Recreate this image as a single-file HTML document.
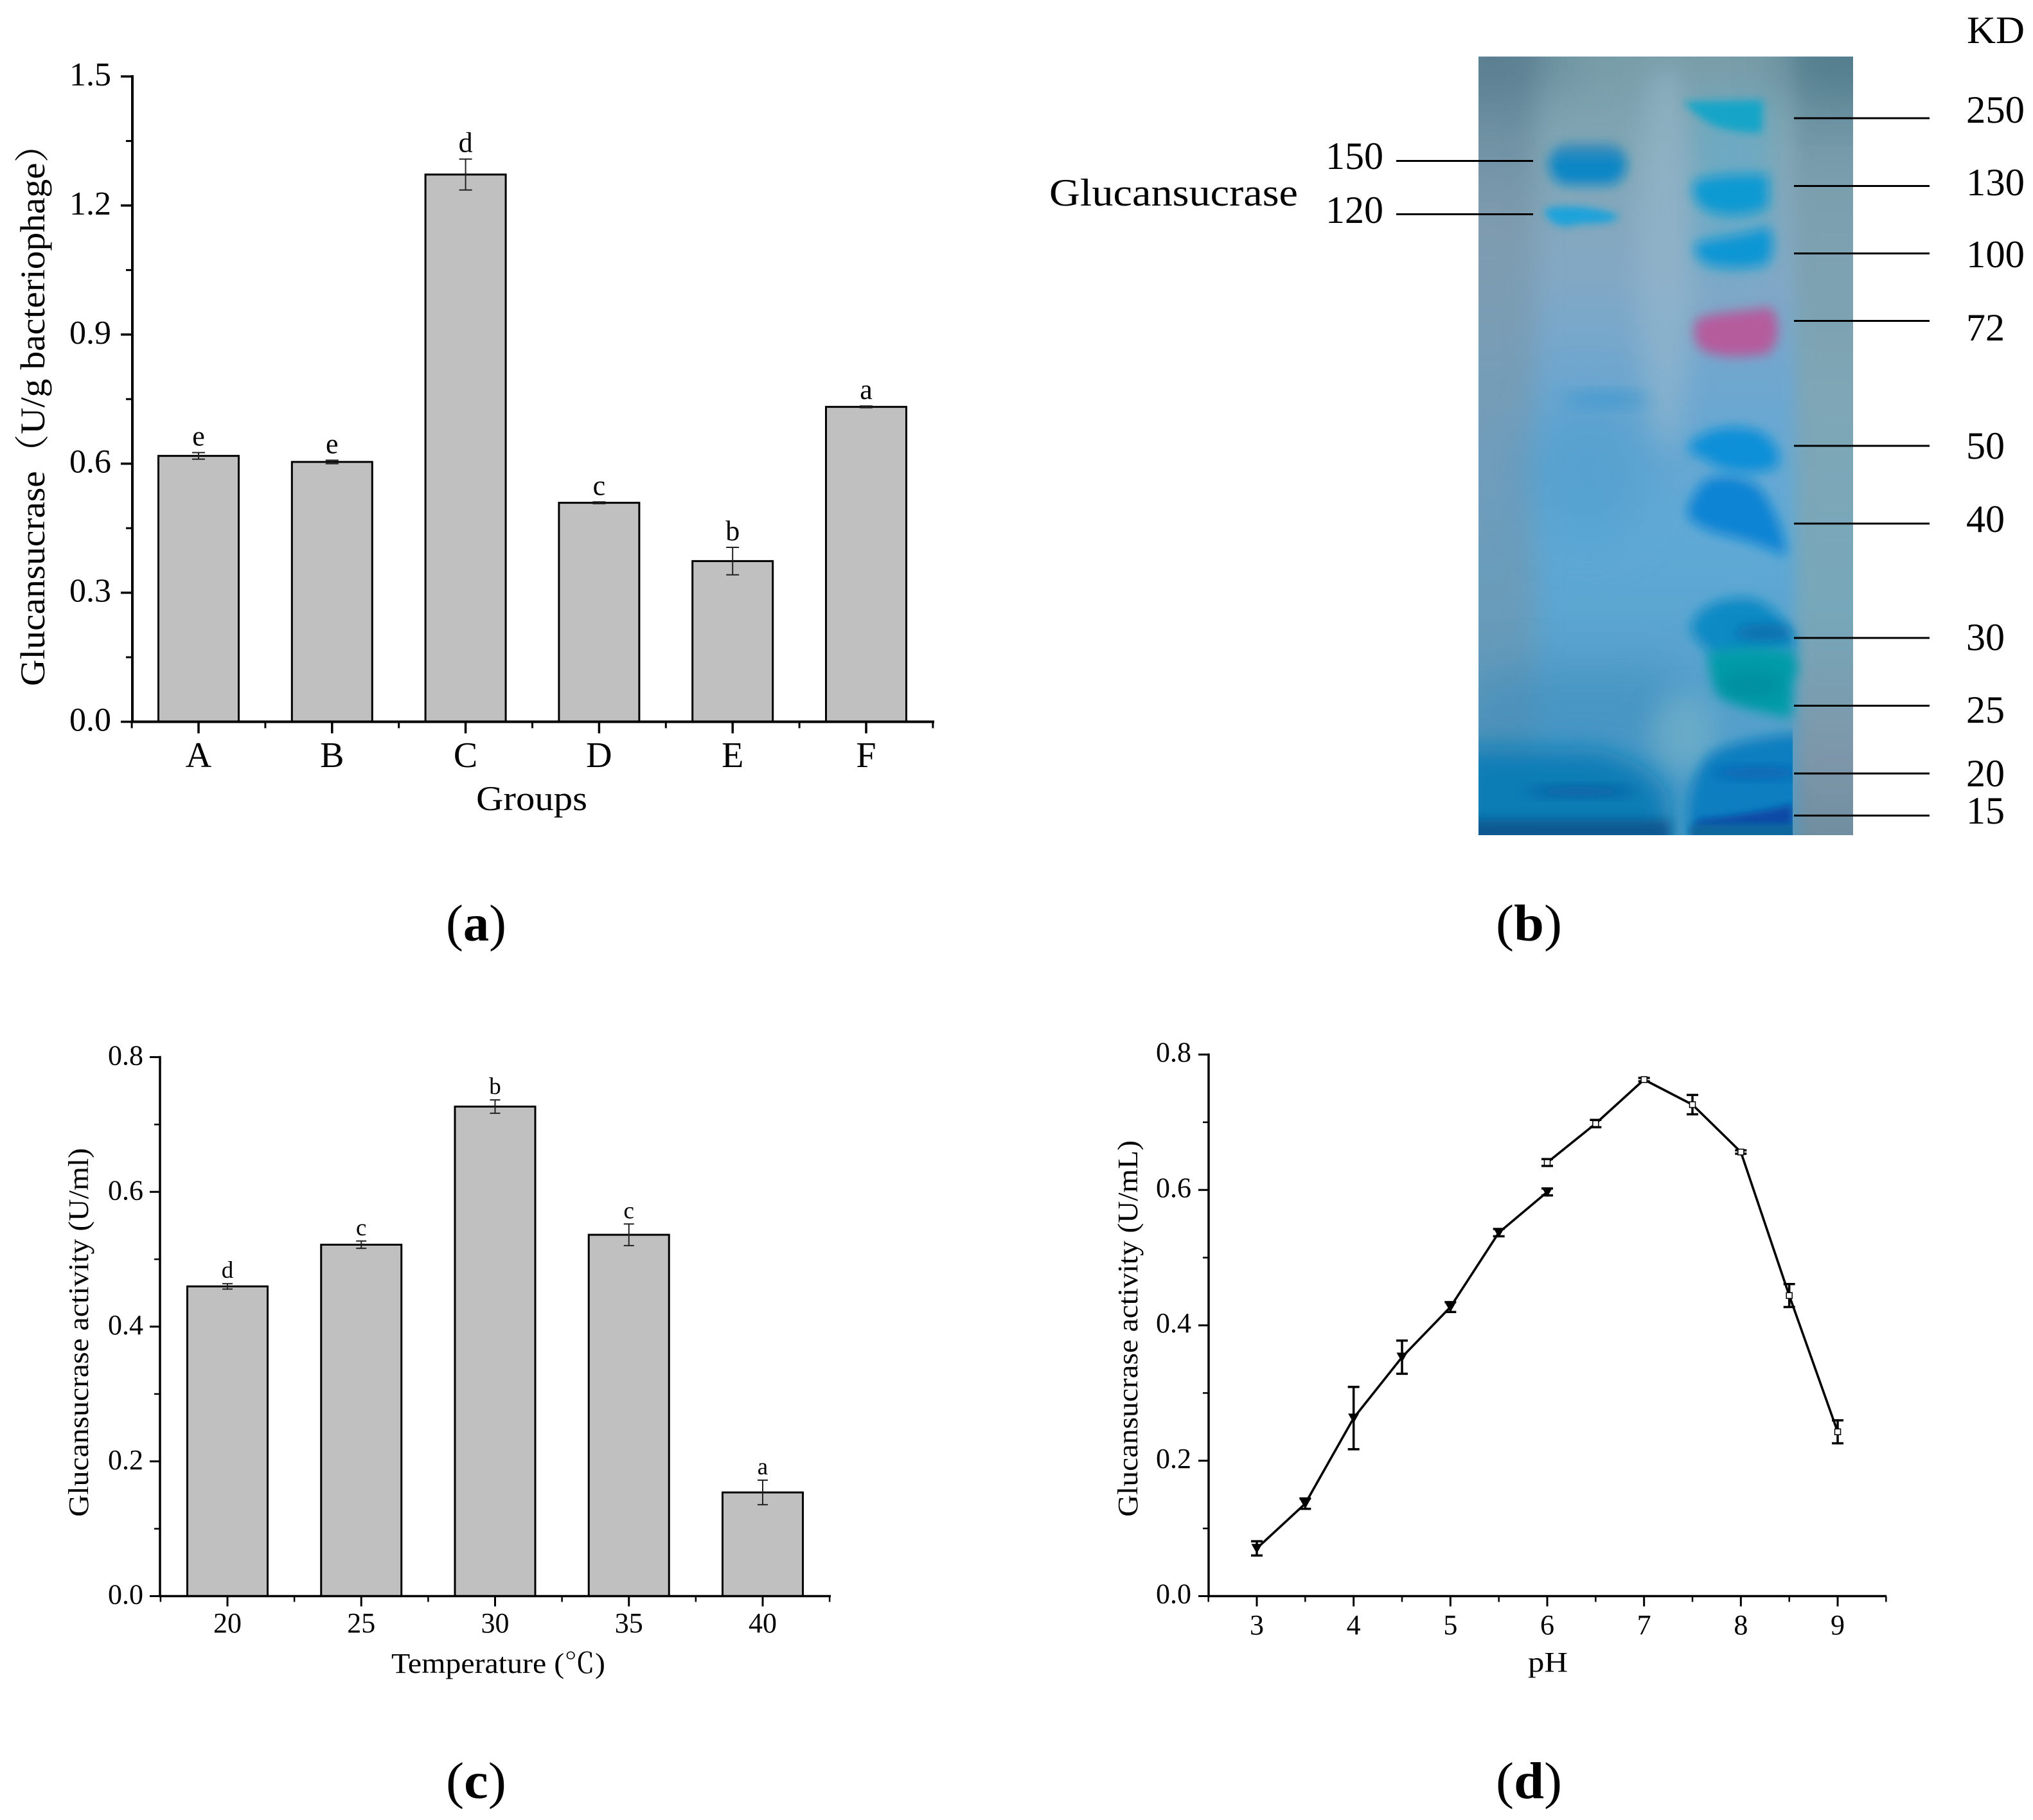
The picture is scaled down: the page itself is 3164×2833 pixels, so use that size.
<!DOCTYPE html>
<html lang="en">
<head>
<meta charset="utf-8">
<title>Glucansucrase figure</title>
<style>
html,body{margin:0;padding:0;background:#fff;}
svg{display:block;}
text{font-family:"Liberation Serif","Noto Serif CJK SC",serif;fill:#000;}
</style>
</head>
<body>
<svg id="figure" xmlns="http://www.w3.org/2000/svg" width="3164" height="2833" viewBox="0 0 3164 2833">
  <defs>
    <filter id="b5" x="-30%" y="-40%" width="160%" height="180%"><feGaussianBlur stdDeviation="6"/></filter>
    <filter id="b7" x="-30%" y="-50%" width="160%" height="200%"><feGaussianBlur stdDeviation="9"/></filter>
    <filter id="b12" x="-40%" y="-40%" width="180%" height="180%"><feGaussianBlur stdDeviation="12"/></filter>
    <filter id="b20" x="-40%" y="-40%" width="180%" height="180%"><feGaussianBlur stdDeviation="20"/></filter>
    <filter id="b40" x="-60%" y="-60%" width="220%" height="220%"><feGaussianBlur stdDeviation="40"/></filter>
    <clipPath id="gelClip"><rect x="2301" y="88" width="583" height="1212"/></clipPath>
    <clipPath id="laneClip"><rect x="2301" y="88" width="489" height="1212"/></clipPath>
    <linearGradient id="gelBase" x1="0" y1="0" x2="0" y2="1">
      <stop offset="0" stop-color="#789ea9"/>
      <stop offset="0.12" stop-color="#82a6b4"/>
      <stop offset="0.28" stop-color="#83a8c4"/>
      <stop offset="0.42" stop-color="#6ea7d0"/>
      <stop offset="0.62" stop-color="#5fa9d6"/>
      <stop offset="0.8" stop-color="#58a2cd"/>
      <stop offset="1" stop-color="#4a9ac6"/>
    </linearGradient>
    <linearGradient id="gelMargin" x1="0" y1="0" x2="0" y2="1">
      <stop offset="0" stop-color="#5f8a9a"/>
      <stop offset="0.2" stop-color="#7c9fae"/>
      <stop offset="0.45" stop-color="#7ea6b6"/>
      <stop offset="0.7" stop-color="#77a7ba"/>
      <stop offset="0.88" stop-color="#7c96a8"/>
      <stop offset="1" stop-color="#6b8b9c"/>
    </linearGradient>
    <linearGradient id="gelLeft" x1="0" y1="0" x2="0" y2="1">
      <stop offset="0" stop-color="#5d8494"/>
      <stop offset="0.25" stop-color="#7f9cb0"/>
      <stop offset="0.55" stop-color="#6f9dbc"/>
      <stop offset="0.8" stop-color="#659ab8"/>
      <stop offset="1" stop-color="#2c86b4"/>
    </linearGradient>
    <linearGradient id="band150" x1="0" y1="0" x2="0" y2="1">
      <stop offset="0" stop-color="#4a90b8"/>
      <stop offset="0.45" stop-color="#0a86c4"/>
      <stop offset="1" stop-color="#0a88c8"/>
    </linearGradient>
  </defs>

  <g id="panel-a"></g>

  <g id="panel-b">
    <g clip-path="url(#gelClip)">
      <rect x="2301" y="88" width="583" height="1212" fill="url(#gelBase)"/>
      <rect x="2240" y="40" width="150" height="1300" fill="url(#gelLeft)" filter="url(#b20)"/>
      <rect x="2795" y="40" width="140" height="1300" fill="url(#gelMargin)" filter="url(#b12)"/>
      <ellipse cx="2592" cy="400" rx="45" ry="300" fill="#96b8cc" opacity="0.6" filter="url(#b20)"/>
      <ellipse cx="2320" cy="95" rx="130" ry="50" fill="#55798c" opacity="0.6" filter="url(#b40)"/>
      <ellipse cx="2880" cy="95" rx="110" ry="60" fill="#4d7686" opacity="0.75" filter="url(#b40)"/>
      <ellipse cx="2470" cy="730" rx="95" ry="110" fill="#4a9bcd" opacity="0.55" filter="url(#b40)"/>
      <ellipse cx="2500" cy="622" rx="66" ry="12" fill="#3a97cf" opacity="0.7" filter="url(#b12)"/>
      <rect x="2280" y="1040" width="330" height="130" fill="#3d8dbe" opacity="0.6" filter="url(#b40)"/>
      <rect x="2640" y="150" width="115" height="280" fill="#55aed2" opacity="0.45" filter="url(#b20)"/>
      <ellipse cx="2620" cy="1140" rx="50" ry="60" fill="#7db6c8" opacity="0.55" filter="url(#b20)"/>
      <g clip-path="url(#laneClip)">
        <path d="M2270 1165 L2480 1165 C2550 1180 2590 1210 2600 1250 L2590 1330 L2270 1330Z" fill="#0c7db6" filter="url(#b20)"/>
        <ellipse cx="2460" cy="1232" rx="85" ry="8" fill="#0a5aa0" opacity="0.85" filter="url(#b7)"/>
        <rect x="2280" y="1276" width="320" height="40" fill="#07528c" opacity="0.9" filter="url(#b7)"/>
        <path d="M2660 1175 C2700 1150 2770 1145 2810 1140 L2810 1310 L2632 1310 C2620 1260 2630 1210 2660 1175Z" fill="#0c7fc0" filter="url(#b7)"/>
        <ellipse cx="2735" cy="1203" rx="70" ry="9" fill="#0a5eb2" opacity="0.85" filter="url(#b7)"/>
        <path d="M2640 1276 C2690 1272 2750 1262 2790 1252 L2790 1288 L2640 1288Z" fill="#0a4aa6" filter="url(#b5)"/>
        <rect x="2630" y="1284" width="170" height="22" fill="#08659a" filter="url(#b5)"/>
      </g>
      <rect x="2411" y="222" width="120" height="66" rx="30" fill="url(#band150)" filter="url(#b7)"/>
      <path d="M2404 326 C2430 316 2490 322 2520 336 C2510 352 2470 346 2450 350 C2430 358 2404 344 2404 326Z" fill="#1fa3da" filter="url(#b5)"/>
      <path d="M2620 158 C2660 158 2710 156 2744 156 L2742 206 C2725 208 2690 204 2665 194 C2650 186 2630 170 2620 158Z" fill="#12a5c8" filter="url(#b5)"/>
      <path d="M2640 280 C2670 272 2720 270 2752 272 L2752 322 C2720 340 2670 338 2648 322 C2634 310 2632 292 2640 280Z" fill="#0a9ad2" filter="url(#b7)"/>
      <path d="M2640 378 C2670 370 2720 366 2752 352 C2762 375 2760 400 2748 412 C2710 420 2670 418 2650 408 C2640 398 2634 388 2640 378Z" fill="#0a96d4" filter="url(#b7)"/>
      <path d="M2642 496 C2680 484 2725 484 2756 478 C2772 500 2770 535 2752 550 C2710 558 2670 556 2648 544 C2634 530 2634 510 2642 496Z" fill="#b55c9d" filter="url(#b7)"/>
      <path d="M2648 678 C2672 660 2730 660 2752 680 C2768 698 2774 715 2764 728 C2730 742 2680 738 2650 712 C2634 708 2626 700 2628 695 C2630 688 2640 682 2648 678Z" fill="#0a90d8" filter="url(#b7)"/>
      <path d="M2655 746 C2690 735 2730 745 2745 768 C2762 795 2778 830 2780 866 C2760 856 2720 840 2680 832 C2650 824 2625 808 2626 798 C2630 778 2642 760 2655 746Z" fill="#0a84d4" filter="url(#b7)"/>
      <path d="M2632 975 C2640 945 2680 925 2730 932 C2765 945 2790 975 2796 1012 L2670 1024 C2650 1005 2632 990 2632 975Z" fill="#0a8ac4" filter="url(#b7)"/>
      <ellipse cx="2745" cy="985" rx="45" ry="14" fill="#0a69a8" opacity="0.75" filter="url(#b7)"/>
      <path d="M2660 1016 C2700 1004 2760 1008 2790 1014 C2800 1030 2800 1050 2790 1060 L2788 1118 C2740 1108 2700 1100 2675 1082 C2662 1058 2658 1034 2660 1016Z" fill="#069ba9" filter="url(#b7)"/>
      <ellipse cx="2725" cy="1066" rx="50" ry="22" fill="#048c9f" opacity="0.7" filter="url(#b12)"/>
    </g>

    <g stroke="#000" stroke-width="3">
      <line x1="2792" x2="3003" y1="184" y2="184"/>
      <line x1="2792" x2="3003" y1="289.5" y2="289.5"/>
      <line x1="2792" x2="3003" y1="394.5" y2="394.5"/>
      <line x1="2792" x2="3003" y1="499.5" y2="499.5"/>
      <line x1="2792" x2="3003" y1="694" y2="694"/>
      <line x1="2792" x2="3003" y1="815" y2="815"/>
      <line x1="2792" x2="3003" y1="993" y2="993"/>
      <line x1="2792" x2="3003" y1="1098.5" y2="1098.5"/>
      <line x1="2792" x2="3003" y1="1204" y2="1204"/>
      <line x1="2792" x2="3003" y1="1269.5" y2="1269.5"/>
      <line x1="2173" x2="2386" y1="250.5" y2="250.5"/>
      <line x1="2173" x2="2386" y1="333.5" y2="333.5"/>
    </g>

    <g font-size="60">
      <text x="3061" y="67" textLength="90" lengthAdjust="spacingAndGlyphs">KD</text>
      <text x="3060" y="191" textLength="91" lengthAdjust="spacingAndGlyphs">250</text>
      <text x="3060" y="304" textLength="91" lengthAdjust="spacingAndGlyphs">130</text>
      <text x="3060" y="416" textLength="91" lengthAdjust="spacingAndGlyphs">100</text>
      <text x="3060" y="530" textLength="60" lengthAdjust="spacingAndGlyphs">72</text>
      <text x="3060" y="714" textLength="60" lengthAdjust="spacingAndGlyphs">50</text>
      <text x="3060" y="828" textLength="60" lengthAdjust="spacingAndGlyphs">40</text>
      <text x="3060" y="1012" textLength="60" lengthAdjust="spacingAndGlyphs">30</text>
      <text x="3060" y="1125" textLength="60" lengthAdjust="spacingAndGlyphs">25</text>
      <text x="3060" y="1224" textLength="60" lengthAdjust="spacingAndGlyphs">20</text>
      <text x="3060" y="1282" textLength="60" lengthAdjust="spacingAndGlyphs">15</text>
      <text x="2063" y="263" textLength="90" lengthAdjust="spacingAndGlyphs">150</text>
      <text x="2063" y="347" textLength="90" lengthAdjust="spacingAndGlyphs">120</text>
      <text x="1633" y="320" textLength="387" lengthAdjust="spacingAndGlyphs">Glucansucrase</text>
    </g>
  </g>

  <g id="panel-c"></g>
  <g id="panel-d"></g>

  <g font-size="80">
    <text x="694" y="1464" textLength="94" lengthAdjust="spacingAndGlyphs">(<tspan font-weight="bold">a</tspan>)</text>
    <text x="2328" y="1464" textLength="103" lengthAdjust="spacingAndGlyphs">(<tspan font-weight="bold">b</tspan>)</text>
    <text x="694" y="2799" textLength="94" lengthAdjust="spacingAndGlyphs">(<tspan font-weight="bold">c</tspan>)</text>
    <text x="2328" y="2799" textLength="103" lengthAdjust="spacingAndGlyphs">(<tspan font-weight="bold">d</tspan>)</text>
  </g>
</svg>

<script>
// Panel (a): activity by group
const groupCategories = ['A', 'B', 'C', 'D', 'E', 'F'];
const groupValues = [0.618, 0.604, 1.272, 0.509, 0.3735, 0.732];
const groupErrors = [0.0076, 0.004, 0.036, 0.002, 0.032, 0.002];
const groupLetters = ['e', 'e', 'd', 'c', 'b', 'a'];
const groupYTicks = ['0.0', '0.3', '0.6', '0.9', '1.2', '1.5'];

// Panel (c): activity by temperature
const tempCategories = ['20', '25', '30', '35', '40'];
const tempValues = [0.4597, 0.5216, 0.7266, 0.5363, 0.1539];
const tempErrors = [0.004, 0.0054, 0.0099, 0.016, 0.0182];
const tempLetters = ['d', 'c', 'b', 'c', 'a'];
const tempYTicks = ['0.0', '0.2', '0.4', '0.6', '0.8'];

// Panel (d): activity by pH, two separate series
const phAcidX = [3, 3.5, 4, 4.5, 5, 5.5, 6];
const phAcidValues = [0.0705, 0.1366, 0.263, 0.353, 0.427, 0.537, 0.597];
const phAcidErrors = [0.0105, 0.0076, 0.046, 0.0245, 0.0073, 0.0054, 0.0051];
const phBasicX = [6, 6.5, 7, 7.5, 8, 8.5, 9];
const phBasicValues = [0.6405, 0.698, 0.763, 0.726, 0.656, 0.444, 0.2427];
const phBasicErrors = [0.005, 0.0054, 0.0025, 0.0143, 0.0025, 0.017, 0.017];
const phXTicks = ['3', '4', '5', '6', '7', '8', '9'];
const phYTicks = ['0.0', '0.2', '0.4', '0.6', '0.8'];

const NS = 'http://www.w3.org/2000/svg';

function make(parent, tag, props) {
  const el = document.createElementNS(NS, tag);
  for (const key in props) el.setAttribute(key, props[key]);
  parent.appendChild(el);
  return el;
}

function linearScale(d0, d1, r0, r1) {
  return function (v) { return r0 + (v - d0) / (d1 - d0) * (r1 - r0); };
}

function drawAxes(g, o) {
  let el = make(g, 'line', {x1: o.left, x2: o.left, y1: o.top - o.axisWidth / 2, y2: o.bottom + o.axisWidth / 2, stroke: '#000', 'stroke-width': o.axisWidth});
  
  
  el = make(g, 'line', {x1: o.left, x2: o.right, y1: o.bottom, y2: o.bottom, stroke: '#000', 'stroke-width': o.axisWidth});
  
  

  o.yTicks.forEach(function (label, i) {
    const v = parseFloat(label);
    const y = o.yScale(v);
    let t = make(g, 'line', {x1: o.left - o.majorLen, x2: o.left, y1: y, y2: y, stroke: '#000', 'stroke-width': o.axisWidth - 0.5});
    
    
    t = make(g, 'text', {x: o.yLabelRight, y: y + o.yLabelDy, 'text-anchor': 'end', 'font-size': o.tickFont});
    t.textContent = label;
    
    
    if (i < o.yTicks.length - 1) {
      const mid = o.yScale((v + parseFloat(o.yTicks[i + 1])) / 2);
      t = make(g, 'line', {x1: o.left - o.minorLen, x2: o.left, y1: mid, y2: mid, stroke: '#000', 'stroke-width': o.axisWidth - 1});
      
      
    }
  });
}

function drawXTick(g, o, x, label) {
  let t = make(g, 'line', {x1: x, x2: x, y1: o.bottom, y2: o.bottom + o.majorLen, stroke: '#000', 'stroke-width': o.axisWidth - 0.5});
  
  
  t = make(g, 'text', {x: x, y: o.xLabelY, 'text-anchor': 'middle', 'font-size': o.xTickFont});
  t.textContent = label;
  
  
}

function drawXMinor(g, o, x) {
  const t = make(g, 'line', {x1: x, x2: x, y1: o.bottom, y2: o.bottom + o.minorLen, stroke: '#000', 'stroke-width': o.axisWidth - 1});
  
  
}

function drawTitles(g, o) {
  let t = make(g, 'text', {x: o.xTitleX, y: o.xTitleY, 'font-size': o.titleFont, textLength: o.xTitleLen, lengthAdjust: 'spacingAndGlyphs'});
  t.textContent = o.xTitle;
  
  
  t = make(g, 'text', {transform: 'translate(' + o.yTitleX + ',' + o.yTitleStart + ') rotate(-90)', 'font-size': o.titleFont, textLength: o.yTitleLen, lengthAdjust: 'spacingAndGlyphs'});
  t.textContent = o.yTitle;
  
  
}

function drawErrorBar(g, x, y, yLow, yHigh, capHalf, width, color) {
  let e = make(g, 'line', {x1: x, x2: x, y1: yHigh, y2: yLow, stroke: color, 'stroke-width': width});
  
  
  e = make(g, 'line', {x1: x - capHalf, x2: x + capHalf, y1: yHigh, y2: yHigh, stroke: color, 'stroke-width': width});
  
  
  e = make(g, 'line', {x1: x - capHalf, x2: x + capHalf, y1: yLow, y2: yLow, stroke: color, 'stroke-width': width});
  
  
}

function drawBarPanel(g, o) {
  o.categories.forEach(function (label, i) {
    const cx = o.xScale(i);
    const top = o.yScale(o.values[i]);
    const bar = make(g, 'rect', {x: cx - o.barWidth / 2, y: top, width: o.barWidth, height: o.bottom - top, fill: '#c0c0c0', stroke: '#000', 'stroke-width': o.barStroke});
    
    
  });
  drawAxes(g, o);
  o.categories.forEach(function (label, i) {
    const cx = o.xScale(i);
    drawXTick(g, o, cx, label);
    drawXMinor(g, o, o.xScale(i - 0.5));
    const yHigh = o.yScale(o.values[i] + o.errors[i]);
    const yLow = o.yScale(o.values[i] - o.errors[i]);
    drawErrorBar(g, cx, o.yScale(o.values[i]), yLow, yHigh, o.capHalf, 2, '#222');
    const sig = make(g, 'text', {x: cx, y: yHigh - o.letterGap, 'text-anchor': 'middle', 'font-size': o.letterFont});
    sig.textContent = o.letters[i];
    
    
  });
  drawXMinor(g, o, o.xScale(o.categories.length - 0.5));
  drawTitles(g, o);
}

// Panel (a)
const aX = linearScale(0, 5, 309, 1348);
const aY = linearScale(0, 1.5, 1123.5, 119);
drawBarPanel(document.getElementById('panel-a'), {
  categories: groupCategories, values: groupValues, errors: groupErrors, letters: groupLetters, yTicks: groupYTicks,
  xScale: aX, yScale: aY, left: 206, right: 1454, top: 119, bottom: 1123.5,
  axisWidth: 4, majorLen: 18, minorLen: 10, barWidth: 125, barStroke: 3, capHalf: 10,
  tickFont: 52, xTickFont: 56, titleFont: 54, letterFont: 44, letterGap: 11,
  yLabelRight: 173, yLabelDy: 14, xLabelY: 1194,
  xTitle: 'Groups', xTitleX: 741, xTitleY: 1261, xTitleLen: 173,
  yTitle: 'Glucansucrase（U/g bacteriophage）', yTitleX: 69, yTitleStart: 1068, yTitleLen: 872
});

// Panel (c)
const cX = linearScale(0, 4, 354, 1187);
const cY = linearScale(0, 0.8, 2484.5, 1645.5);
drawBarPanel(document.getElementById('panel-c'), {
  categories: tempCategories, values: tempValues, errors: tempErrors, letters: tempLetters, yTicks: tempYTicks,
  xScale: cX, yScale: cY, left: 249, right: 1293, top: 1645.5, bottom: 2484.5,
  axisWidth: 3.5, majorLen: 16, minorLen: 9, barWidth: 125, barStroke: 3, capHalf: 8,
  tickFont: 44, xTickFont: 44, titleFont: 44, letterFont: 37, letterGap: 9,
  yLabelRight: 223, yLabelDy: 12, xLabelY: 2541,
  xTitle: 'Temperature (℃)', xTitleX: 609, xTitleY: 2604, xTitleLen: 333,
  yTitle: 'Glucansucrase activity (U/ml)', yTitleX: 137, yTitleStart: 2361, yTitleLen: 574
});

// Panel (d)
const dX = linearScale(3, 9, 1956, 2860);
const dY = linearScale(0, 0.8, 2484.5, 1641.5);
const dPanel = document.getElementById('panel-d');
const dOpts = {
  yTicks: phYTicks, yScale: dY, left: 1881, right: 2936, top: 1641.5, bottom: 2484.5,
  axisWidth: 3.5, majorLen: 16, minorLen: 9,
  tickFont: 44, xTickFont: 44, titleFont: 44,
  yLabelRight: 1854, yLabelDy: 11, xLabelY: 2544,
  xTitle: 'pH', xTitleX: 2378, xTitleY: 2602, xTitleLen: 62,
  yTitle: 'Glucansucrase activity (U/mL)', yTitleX: 1770, yTitleStart: 2361, yTitleLen: 586
};
drawAxes(dPanel, dOpts);
phXTicks.forEach(function (label) {
  const v = parseFloat(label);
  drawXTick(dPanel, dOpts, dX(v), label);
  if (v < 9) drawXMinor(dPanel, dOpts, dX(v + 0.5));
});
drawXMinor(dPanel, dOpts, dX(2.5));
drawXMinor(dPanel, dOpts, dX(9.5));
drawTitles(dPanel, dOpts);

function drawLine(parent, xs, ys, name) {
  const pts = xs.map(function (x, i) { return dX(x) + ',' + dY(ys[i]); }).join(' ');
  const line = make(parent, 'polyline', {points: pts, fill: 'none', stroke: '#000', 'stroke-width': 3.6, 'stroke-linejoin': 'round'});
  
  
}

drawLine(dPanel, phAcidX, phAcidValues, 'ph-line-acidic');
drawLine(dPanel, phBasicX, phBasicValues, 'ph-line-basic');

phAcidX.forEach(function (x, i) {
  const px = dX(x);
  const py = dY(phAcidValues[i]);
  drawErrorBar(dPanel, px, py, dY(phAcidValues[i] - phAcidErrors[i]), dY(phAcidValues[i] + phAcidErrors[i]), 9, 3.5, '#000');
  const m = make(dPanel, 'polygon', {points: (px - 8.5) + ',' + (py - 7) + ' ' + (px + 8.5) + ',' + (py - 7) + ' ' + px + ',' + (py + 8), fill: '#000'});
  
  
});

phBasicX.forEach(function (x, i) {
  const px = dX(x);
  const py = dY(phBasicValues[i]);
  drawErrorBar(dPanel, px, py, dY(phBasicValues[i] - phBasicErrors[i]), dY(phBasicValues[i] + phBasicErrors[i]), 9, 3.5, '#000');
  const m = make(dPanel, 'rect', {x: px - 4.5, y: py - 4.5, width: 9, height: 9, fill: '#fff', stroke: '#000', 'stroke-width': 1.5});
  
  
});
</script>
</body>
</html>
